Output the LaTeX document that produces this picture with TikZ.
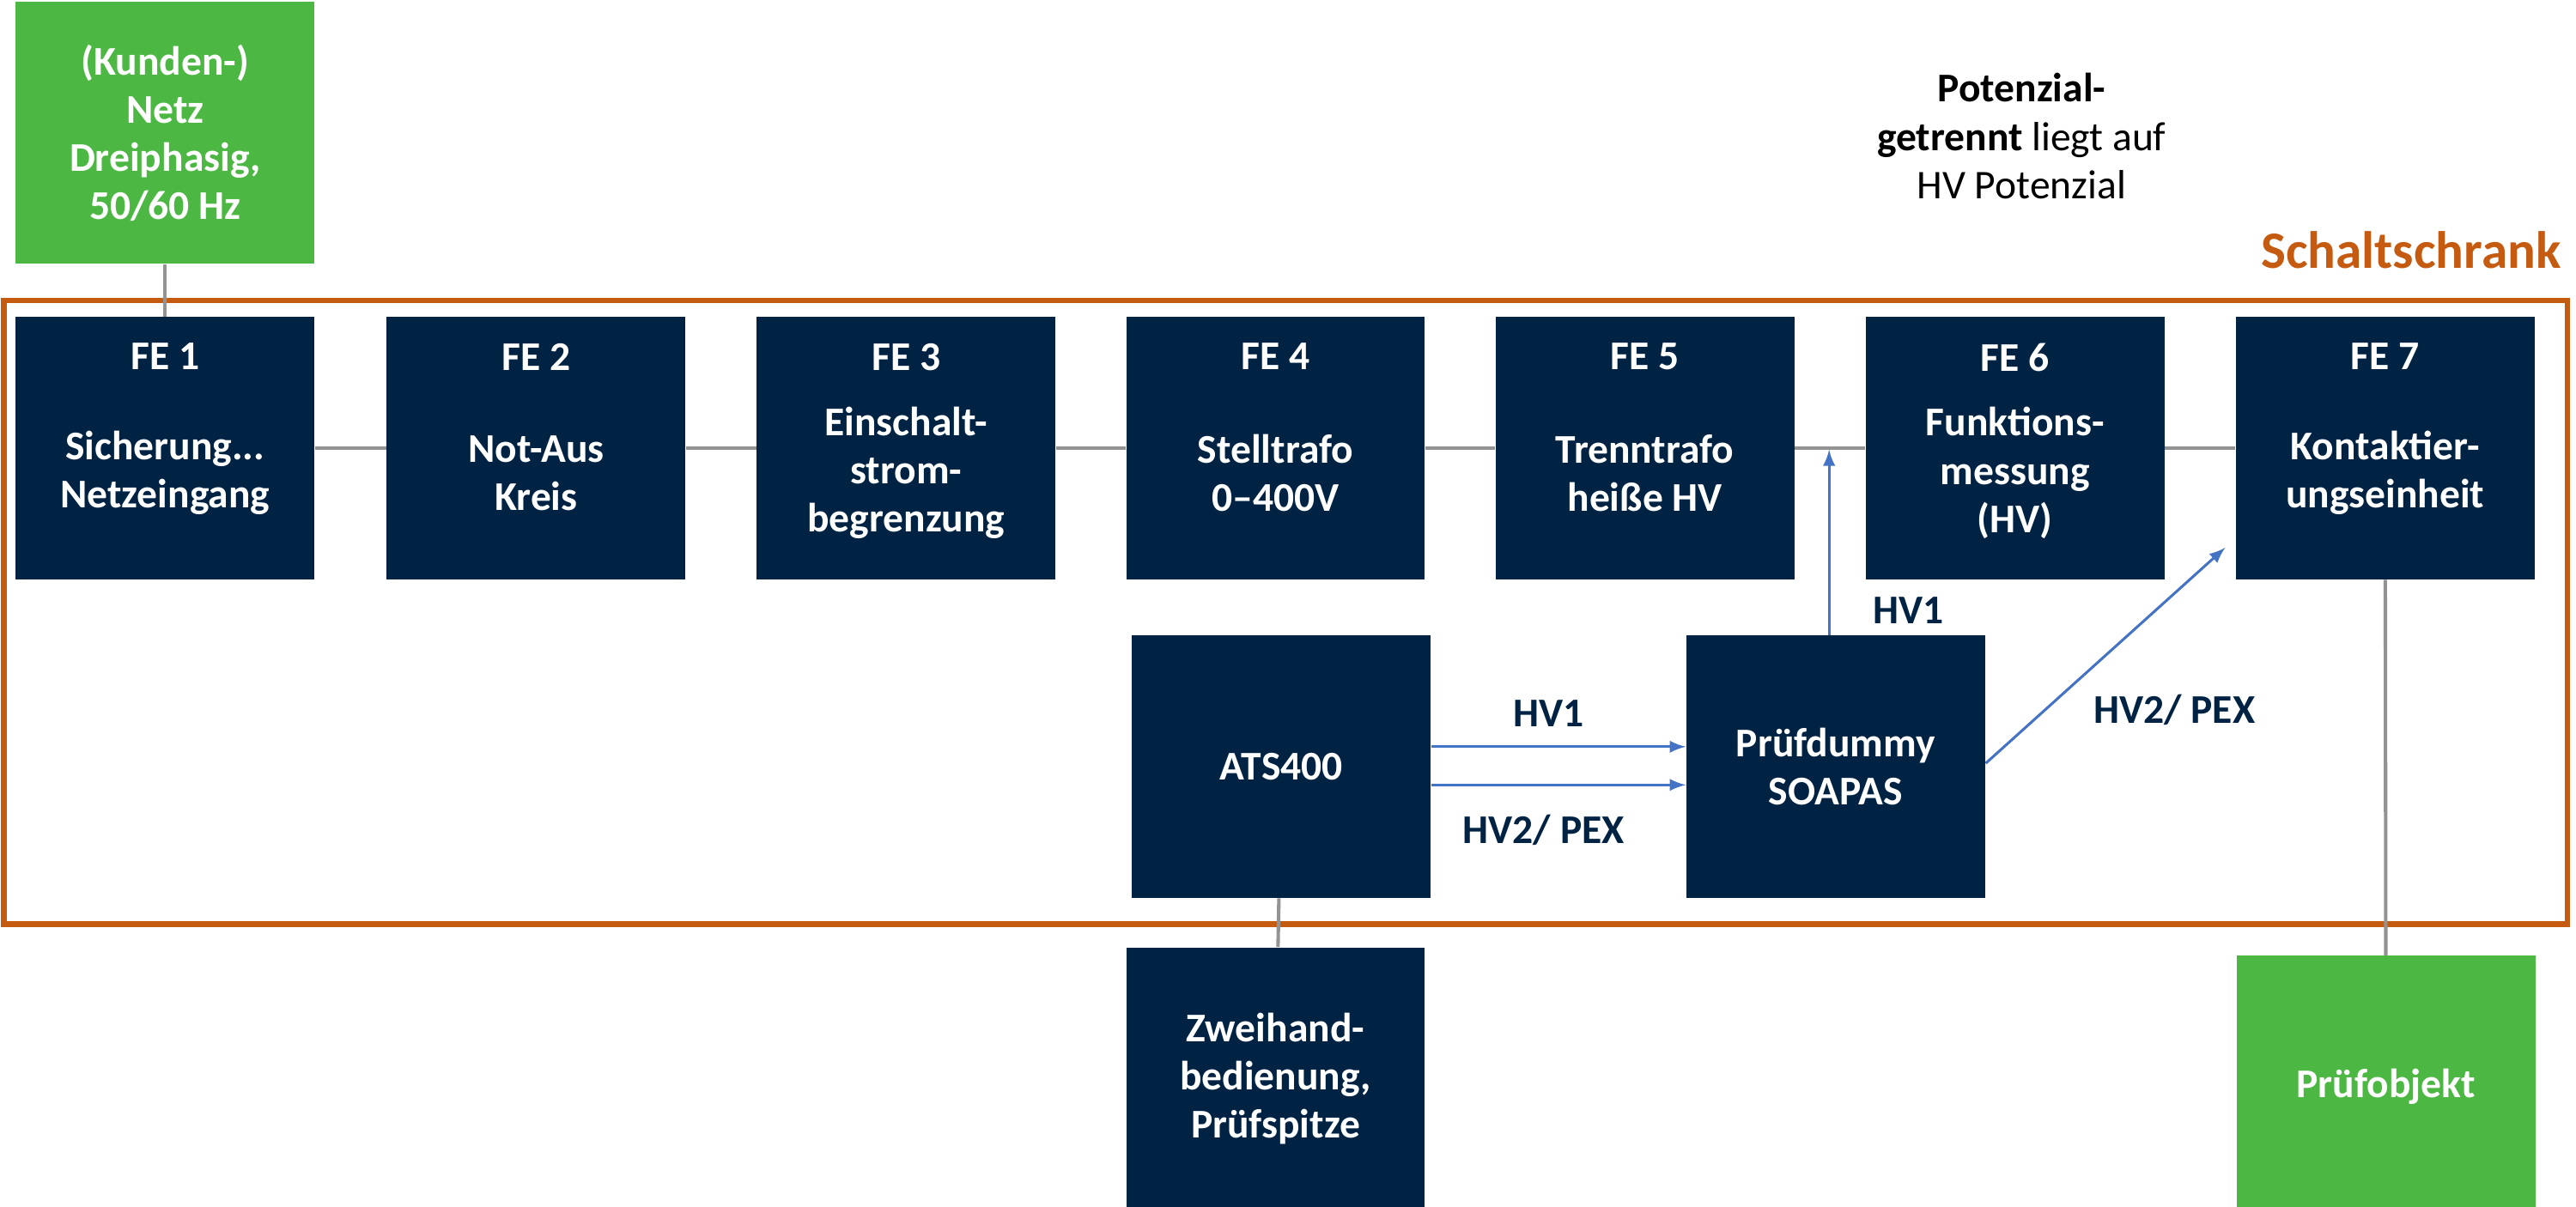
\documentclass[tikz,border=0pt]{standalone}
\usepackage{fontspec}
\setmainfont{Carlito}
\usetikzlibrary{positioning}
\definecolor{navy}{HTML}{002344}
\definecolor{gruen}{HTML}{4DB744}
\definecolor{orange}{HTML}{C55A11}
\definecolor{pfeil}{HTML}{4472C4}
\tikzset{
  box/.style={fill=navy, text=white, minimum width=3.6cm, minimum height=3.16cm,
    align=center, font=\fontsize{14}{16.5}\selectfont\bfseries},
  gbox/.style={box, fill=gruen},
  verb/.style={draw=gray!85, line width=1.2pt},
  hv/.style={draw=pfeil, line width=0.9pt, -latex},
  lab/.style={text=navy, font=\fontsize{14}{16.5}\selectfont\bfseries}
}
\newcommand{\fe}[4]{%
  \node[box] (#1) at (#2,270) {};
  \node[anchor=north, text=white, font=\fontsize{14}{16.5}\selectfont\bfseries] at ([yshift=-0.2cm]#1.north) {#3};
  \node[box, fill=none, minimum size=0pt] at ([yshift=-0.3cm]#1.center) {#4};}

\begin{document}
\begin{tikzpicture}[x=0.02cm, y=-0.02cm]
  \useasboundingbox (0,0) rectangle (1552,727);
  % Schaltschrank
  \node[draw=orange, line width=2pt, minimum width=30.9cm, minimum height=7.52cm] (schrank) at (774.5,369) {};
  \node[anchor=south east, text=orange, font=\fontsize{18}{21}\selectfont\bfseries] (schranklab) at (1549,168) {Schaltschrank};
  \node[align=center, font=\fontsize{14}{16.5}\selectfont] (pot) at (1218,82) {\textbf{Potenzial-}\\\textbf{getrennt} liegt auf\\HV Potenzial};
  % Funktionseinheiten
  \fe{fe1}{99.5}{FE 1}{Sicherung...\\Netzeingang}
  \fe{fe2}{323}{FE 2}{Not-Aus\\Kreis}
  \fe{fe3}{546}{FE 3}{Einschalt-\\strom-\\begrenzung}
  \fe{fe4}{768.5}{FE 4}{Stelltrafo\\0–400V}
  \fe{fe5}{991}{FE 5}{Trenntrafo\\heiße HV}
  \fe{fe6}{1214}{FE 6}{Funktions-\\messung\\(HV)}
  \fe{fe7}{1437}{FE 7}{Kontaktier-\\ungseinheit}
  \node[gbox] (netz) at (99.5,80) {(Kunden-)\\Netz\\Dreiphasig,\\50/60 Hz};
  \node[box] (ats) at (772,462) {ATS400};
  \node[box] (dummy) at (1106,462) {Prüfdummy\\SOAPAS};
  \node[box] (zwei) at (768.5,650) {Zweihand-\\bedienung,\\Prüfspitze};
  \node[gbox] (objekt) at (1437.5,655) {Prüfobjekt};
  % Verbindungen
  \foreach \a/\b in {fe1/fe2, fe2/fe3, fe3/fe4, fe4/fe5, fe5/fe6, fe6/fe7}
    \draw[verb] (\a) -- (\b);
  \draw[verb] (netz) -- (fe1);
  \draw[verb] (ats) -- (zwei);
  \draw[verb] (fe7) -- (objekt);
  \draw[hv] (ats.east |- 0,450) -- (dummy.west |- 0,450);
  \draw[hv] (ats.east |- 0,473) -- (dummy.west |- 0,473);
  \draw[hv] (dummy.north -| 1102,0) -- (1102,271);
  \draw[hv] (dummy.east |- 0,460) -- ([xshift=-0.12cm]fe7.south west |- 0,330);
  \node[lab] (l1) at (933,430) {HV1};
  \node[lab] (l2) at (930,500) {HV2/ PEX};
  \node[lab] (l3) at (1150,368) {HV1};
  \node[lab] (l4) at (1310,428) {HV2/ PEX};
\end{tikzpicture}
\end{document}
